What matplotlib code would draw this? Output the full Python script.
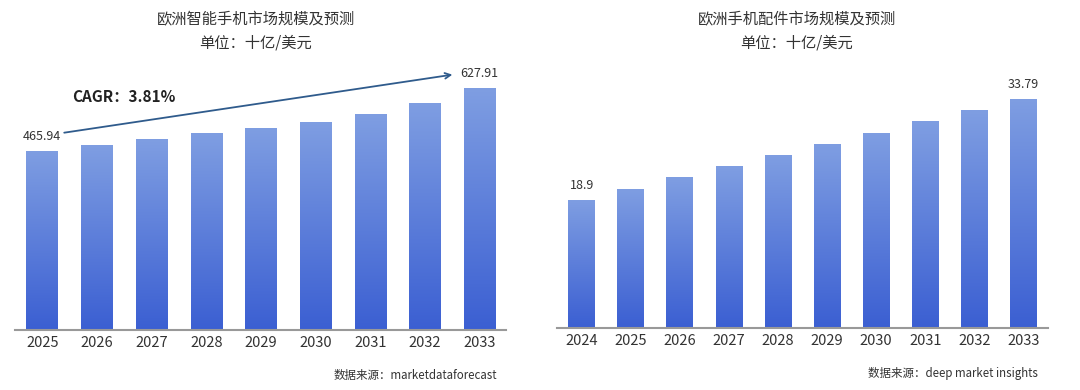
import numpy as np
import matplotlib
matplotlib.use("Agg")
import matplotlib.pyplot as plt
from matplotlib.colors import LinearSegmentedColormap

plt.rcParams['font.family'] = ['Noto Sans CJK SC', 'DejaVu Sans']

# data
phone_years = ["2025", "2026", "2027", "2028", "2029", "2030", "2031", "2032", "2033"]
phone_values = [465.94, 480.5, 496.0, 511.6, 525.5, 541.0, 561.0, 590.6, 627.91]

acc_years = ["2024", "2025", "2026", "2027", "2028", "2029", "2030", "2031", "2032", "2033"]
acc_values = [18.9, 20.56, 22.2, 23.86, 25.53, 27.1, 28.78, 30.46, 32.08, 33.79]

W, H = 1080, 390
fig = plt.figure(figsize=(W / 100, H / 100), dpi=100)
fig.patch.set_facecolor("white")

cmap = LinearSegmentedColormap.from_list("bar", ["#3b5fd2", "#7f9ee2"])
grad = np.linspace(0, 1, 256).reshape(-1, 1)


def px_axes(x0, x1, y_top, y_bot):
    return fig.add_axes([x0 / W, 1 - y_bot / H, (x1 - x0) / W, (y_bot - y_top) / H])


def gradient_bars(ax, labels, values, width, ymax, xmax):
    x = np.arange(len(values))
    bars = ax.bar(x, values, width=width, color="none", edgecolor="none")
    for b in bars:
        x0 = b.get_x()
        im = ax.imshow(grad, extent=[x0, x0 + b.get_width(), 0, b.get_height()],
                       origin="lower", aspect="auto", cmap=cmap, zorder=2)
        im.set_clip_path(b)
    ax.set_xlim(-0.5, xmax)
    ax.set_ylim(0, ymax)
    ax.set_xticks(x)
    ax.set_xticklabels(labels, fontsize=10.5, color="#333333")
    ax.tick_params(axis="x", length=0, pad=4)
    ax.set_yticks([])
    for s in ["top", "right", "left"]:
        ax.spines[s].set_visible(False)
    ax.spines["bottom"].set_color("#999999")
    ax.spines["bottom"].set_linewidth(1.5)
    ax.spines["bottom"].set_zorder(3)
    ax.set_facecolor("none")
    return bars


# left chart
ax1 = px_axes(15, 506, 60, 330)
gradient_bars(ax1, phone_years, phone_values, 0.58, 702, 8.48)
ax1.text(0, phone_values[0] + 38, f"{phone_values[0]:.2f}", ha="center", va="center",
         fontsize=9, color="#333333")
ax1.text(8, phone_values[-1] + 40, f"{phone_values[-1]:.2f}", ha="center", va="center",
         fontsize=9, color="#333333")
ax1.annotate("", xy=(7.55, phone_values[-1] + 37), xytext=(0.35, phone_values[0] + 46),
             arrowprops=dict(arrowstyle="->", color="#2f5b8c", lw=1.3))
ax1.text(0.55, 605, "CAGR：3.81%", fontsize=11, fontweight="bold", color="#222222",
         ha="left", va="center")

fig.text(256 / W, 1 - 20 / H, "欧洲智能手机市场规模及预测", ha="center", va="center",
         fontsize=11, color="#333333")
fig.text(256 / W, 1 - 43 / H, "单位：十亿/美元", ha="center", va="center",
         fontsize=11, color="#333333")
fig.text(497 / W, 1 - 375 / H, "数据来源：marketdataforecast", ha="right", va="center",
         fontsize=8.3, color="#333333")

# right chart
ax2 = px_axes(557, 1048, 60, 328)
gradient_bars(ax2, acc_years, acc_values, 0.54, 39.5, 9.5)
ax2.text(0, acc_values[0] + 1.2, f"{acc_values[0]}", ha="center", va="bottom",
         fontsize=9, color="#333333")
ax2.text(9, acc_values[-1] + 1.2, f"{acc_values[-1]:.2f}", ha="center", va="bottom",
         fontsize=9, color="#333333")

fig.text(797 / W, 1 - 20 / H, "欧洲手机配件市场规模及预测", ha="center", va="center",
         fontsize=11, color="#333333")
fig.text(797 / W, 1 - 43 / H, "单位：十亿/美元", ha="center", va="center",
         fontsize=11, color="#333333")
fig.text(1038 / W, 1 - 373 / H, "数据来源：deep market insights", ha="right", va="center",
         fontsize=8.3, color="#333333")

fig.savefig("out.png", dpi=100, facecolor="white")
